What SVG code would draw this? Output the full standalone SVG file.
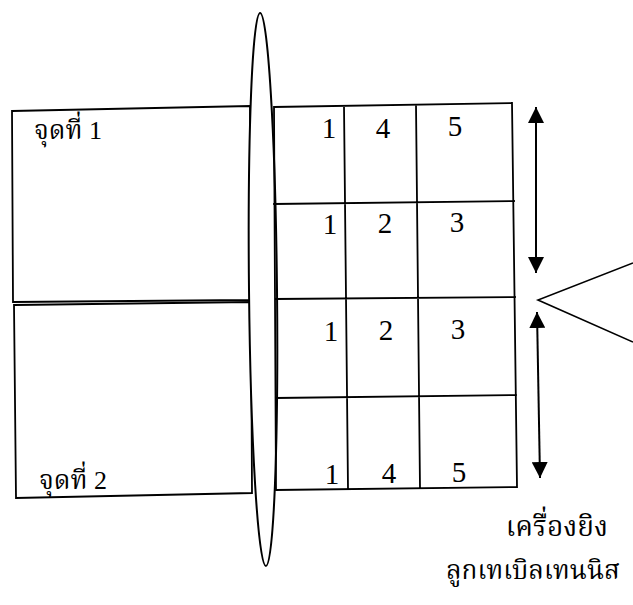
<svg xmlns="http://www.w3.org/2000/svg" width="633" height="605" viewBox="0 0 633 605">
<style>
.ln{stroke:#000;stroke-width:1.8;fill:none;stroke-linecap:square}
.num{font-family:"Liberation Serif","Times New Roman",serif;font-size:29px;fill:#000;text-anchor:middle}
.th{font-family:"Liberation Serif","Noto Serif Thai","Noto Sans Thai",serif;font-size:26px;fill:#000}
.thb{font-family:"Liberation Serif","Noto Serif Thai","Noto Sans Thai",serif;font-size:28px;fill:#000;text-anchor:end}
</style>
<defs>
<marker id="ah" viewBox="0 0 10 10" refX="10" refY="5" markerWidth="16" markerHeight="16" markerUnits="userSpaceOnUse" orient="auto-start-reverse">
<path d="M0,0 L10,5 L0,10 Z" fill="#000"/>
</marker>
</defs>
<rect width="633" height="605" fill="#fff"/>
<g id="area1">
<path class="ln" d="M12,111 L250,106 L250,300 L13,302 Z"/>
<text class="th" x="34" y="139">จุดที่ 1</text>
</g>
<g id="area2">
<path class="ln" d="M14,305 L251,302 L252,493 L16,498 Z"/>
<text class="th" x="39" y="489">จุดที่ 2</text>
</g>
<g id="net">
<ellipse cx="263" cy="289.5" rx="14" ry="276.5" transform="rotate(-0.6 263 289.5)" fill="#fff" stroke="#000" stroke-width="2"/>
</g>
<g id="grid">
<path class="ln" d="M274,107 L512,103 M274,204 L514,201 M275,299 L515,297 M276,398 L516,395 M276,490 L517,487 M274,107 L276,490 M344,106 L348,489 M416,105 L420,488 M512,103 L517,487"/>
<text class="num" x="329" y="138">1</text>
<text class="num" x="383" y="138">4</text>
<text class="num" x="455" y="136">5</text>
<text class="num" x="330" y="234">1</text>
<text class="num" x="385" y="233">2</text>
<text class="num" x="457" y="232">3</text>
<text class="num" x="331" y="341">1</text>
<text class="num" x="386" y="340">2</text>
<text class="num" x="458" y="339">3</text>
<text class="num" x="332" y="484">1</text>
<text class="num" x="389" y="483">4</text>
<text class="num" x="459" y="482">5</text>
</g>
<g id="connectors">
<line x1="536" y1="107" x2="536" y2="273" stroke="#000" stroke-width="2" marker-start="url(#ah)" marker-end="url(#ah)"/>
<line x1="537" y1="312" x2="540" y2="478" stroke="#000" stroke-width="2" marker-start="url(#ah)" marker-end="url(#ah)"/>
</g>
<g id="launcher">
<path d="M633,263 L538,300 L633,342" stroke="#000" stroke-width="1.6" fill="none"/>
<text class="thb" x="608" y="536">เครื่องยิง</text>
<text class="thb" x="620" y="579" style="font-size:26px">ลูกเทเบิลเทนนิส</text>
</g>
</svg>
